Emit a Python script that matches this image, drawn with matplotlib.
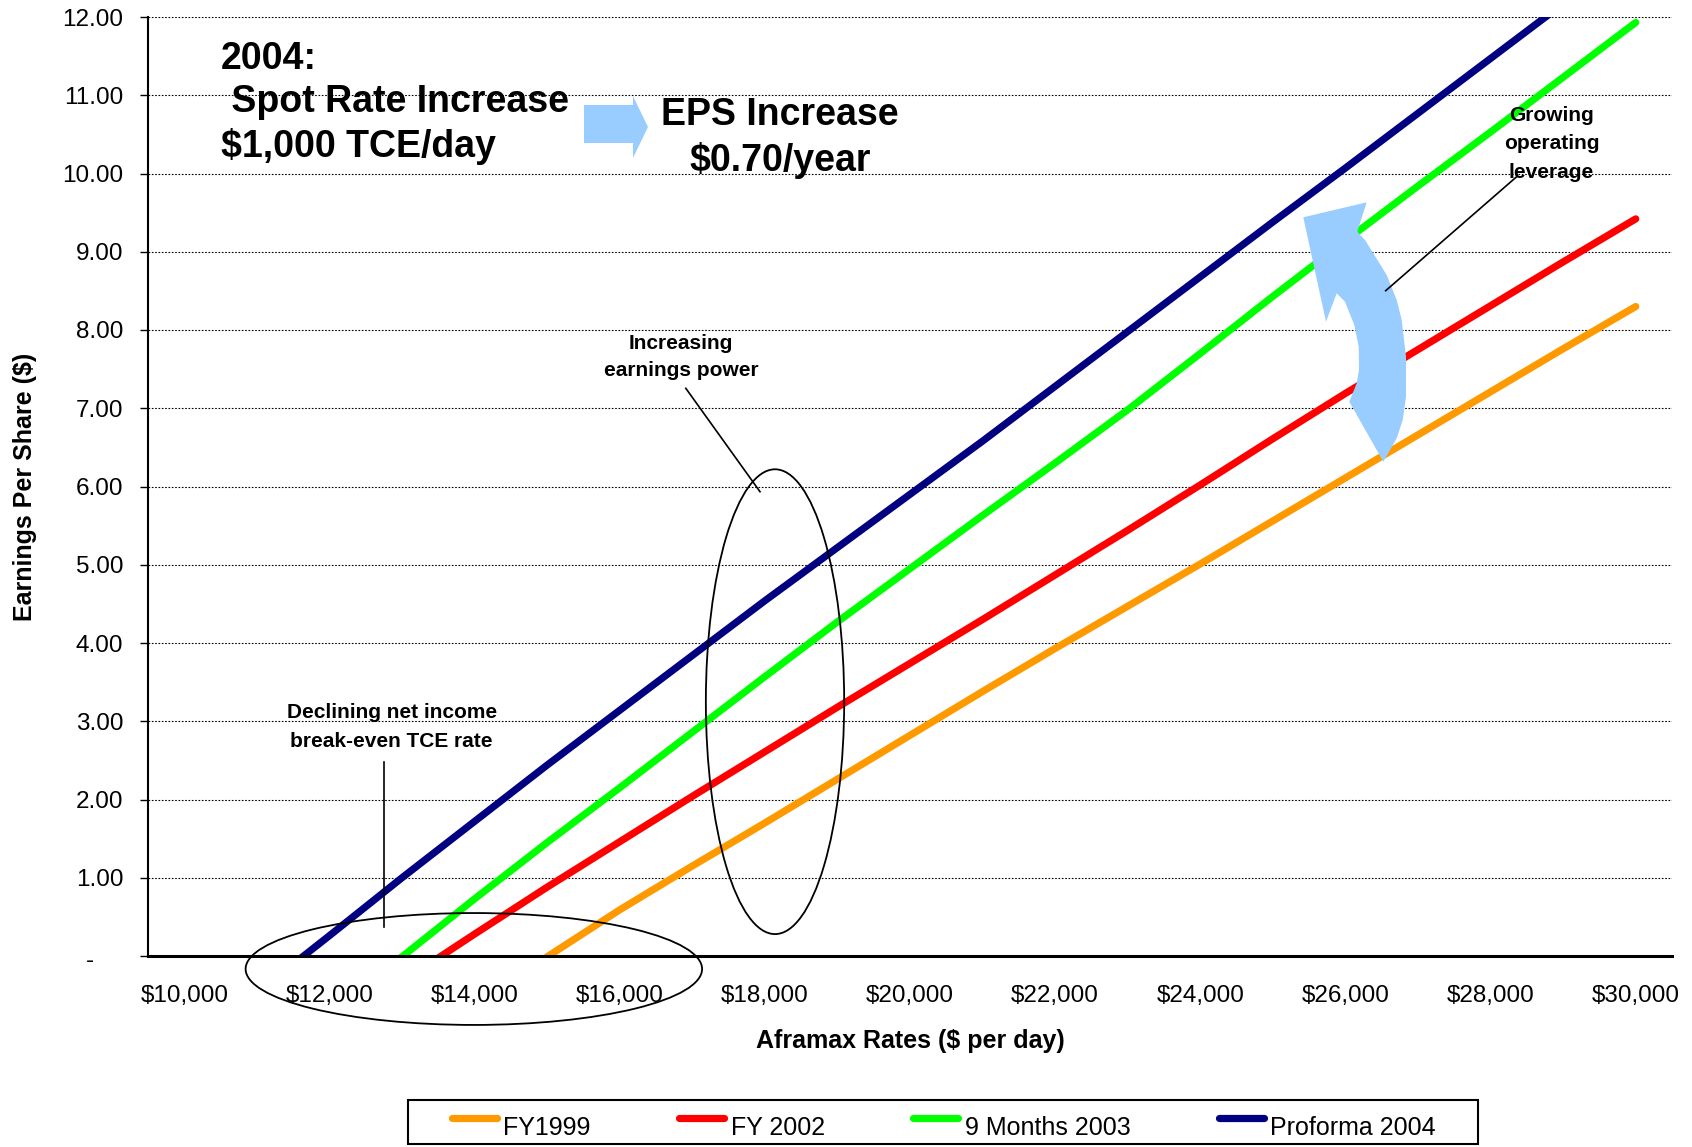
import numpy as np
import matplotlib.pyplot as plt
import matplotlib.transforms as mtransforms
from matplotlib.patches import Ellipse, Polygon, Rectangle
from matplotlib.lines import Line2D

plt.rcParams['font.family'] = ['Liberation Sans', 'DejaVu Sans']

# EPS sensitivity to the Aframax spot rate, one point per $1,000/day
rates = list(range(10000, 30001, 1000))
eps_fy1999 = [-3.00, -2.42, -1.82, -1.22, -0.61, -0.01, 0.59, 1.15, 1.70, 2.26, 2.82,
              3.38, 3.93, 4.47, 5.01, 5.56, 6.11, 6.66, 7.21, 7.76, 8.30]
eps_fy2002 = [-2.15, -1.55, -0.95, -0.33, 0.28, 0.88, 1.46, 2.04, 2.61, 3.18, 3.74,
              4.30, 4.87, 5.44, 6.02, 6.61, 7.19, 7.75, 8.31, 8.87, 9.42]
eps_9m2003 = [-2.12, -1.42, -0.72, -0.01, 0.73, 1.45, 2.15, 2.86, 3.57, 4.27, 4.95,
              5.63, 6.30, 6.98, 7.70, 8.43, 9.14, 9.84, 10.53, 11.23, 11.93]
eps_pf2004 = [-1.20, -0.47, 0.26, 1.00, 1.72, 2.44, 3.14, 3.84, 4.54, 5.22, 5.90,
              6.58, 7.28, 7.98, 8.68, 9.38, 10.07, 10.77, 11.47, 12.17, 12.87]

series_names = ['FY1999', 'FY 2002', '9 Months 2003', 'Proforma 2004']
series_colors = ['#FF9900', '#FF0000', '#00FF00', '#000080']
y_ticks = list(range(0, 13))

W, H = 1692, 1147


def fx(x):
    return x / W


def fy(y):
    return 1 - y / H


fig = plt.figure(figsize=(W / 100, H / 100), dpi=100)
ax = fig.add_axes([fx(148), fy(956), (1672 - 148) / W, (956 - 17) / H])

x = np.arange(len(rates))
lines = []
for vals, color in zip([eps_fy1999, eps_fy2002, eps_9m2003, eps_pf2004], series_colors):
    ln, = ax.plot(x, vals, color=color, lw=5.2, solid_capstyle='round',
                  solid_joinstyle='round', zorder=3)
    lines.append(ln)

ax.set_xlim(-0.5, len(rates) - 0.5)
ax.set_ylim(0, 12)

# category axis, every second rate labelled
ax.set_xticks(x[::2])
ax.set_xticklabels(['${:,}'.format(r) for r in rates[::2]], fontsize=17.5)
ax.tick_params(axis='x', length=0, pad=21)

ax.set_yticks(y_ticks)
ax.set_yticklabels(['-' if v == 0 else '{:.2f}'.format(v) for v in y_ticks], fontsize=17.5)
ax.tick_params(axis='y', direction='out', length=5.8, width=1, pad=12)
# accounting-style dash for zero sits left of the decimals
zero_lbl = ax.get_yticklabels()[0]
zero_lbl.set_transform(zero_lbl.get_transform() +
                       mtransforms.ScaledTranslation(-0.295, -0.03, fig.dpi_scale_trans))

ax.yaxis.grid(True, color='black', linestyle=(0, (1.5, 1.5)), lw=0.8)
ax.set_axisbelow(True)
for s in ['top', 'right']:
    ax.spines[s].set_visible(False)
ax.spines['left'].set_linewidth(1.5)
ax.spines['bottom'].set_linewidth(2.2)
ax.spines['bottom'].set_zorder(4)

ax.set_xlabel('Aframax Rates ($ per day)', fontsize=18, fontweight='bold', labelpad=16)
ax.set_ylabel('Earnings Per Share ($)', fontsize=18, fontweight='bold', labelpad=18)

# highlight ellipses
ax.add_patch(Ellipse((8.14, 3.25), 1.906, 5.94, fill=False, edgecolor='black',
                     lw=1.3, zorder=6, clip_on=False))
ax.add_patch(Ellipse((3.99, -0.166), 6.29, 1.43, fill=False, edgecolor='black',
                     lw=1.3, zorder=6, clip_on=False))

# headline text and block arrow
fig.text(fx(221), fy(103), '2004:\n Spot Rate Increase\n$1,000 TCE/day', fontsize=27,
         fontweight='bold', ha='left', va='center', linespacing=1.25)
arrow_pts = [(584, 105), (633, 105), (633, 96), (648, 127), (633, 158), (633, 143), (584, 143)]
fig.patches.append(Polygon([(fx(a), fy(b)) for a, b in arrow_pts], closed=True,
                           transform=fig.transFigure, facecolor='#99CCFF', edgecolor='none'))
fig.text(fx(780), fy(138), 'EPS Increase\n$0.70/year', fontsize=27, fontweight='bold',
         ha='center', va='center', multialignment='center', linespacing=1.30)

# curved arrow between FY1999 and the 2003 line
curve_pts = [(1303.3, 217.3), (1366.7, 202.3), (1357.3, 231.7), (1365, 240), (1386.7, 275),
             (1396.7, 300), (1401.7, 320), (1406, 356.7), (1406, 396.7), (1402.7, 420),
             (1396.7, 438.3), (1383.3, 461.7), (1349.3, 401.7), (1356.7, 383.3),
             (1359, 370), (1358.7, 346.7), (1354.3, 325), (1345, 301.7), (1336.7, 293.3),
             (1326, 321.7)]
fig.patches.append(Polygon([(fx(a), fy(b)) for a, b in curve_pts], closed=True,
                           transform=fig.transFigure, facecolor='#99CCFF', edgecolor='none'))

# callouts
fig.text(fx(1551.6), fy(144), 'Growing\noperating\nleverage', fontsize=15, fontweight='bold',
         ha='center', va='center', multialignment='center', linespacing=1.64)
fig.lines.append(Line2D([fx(1516.7), fx(1385.7)], [fy(176.7), fy(290.7)],
                        transform=fig.transFigure, color='black', lw=1.2))

fig.text(fx(681), fy(357), 'Increasing\nearnings power', fontsize=15, fontweight='bold',
         ha='center', va='center', multialignment='center', linespacing=1.51)
fig.lines.append(Line2D([fx(685.8), fx(760)], [fy(388.3), fy(491.7)],
                        transform=fig.transFigure, color='black', lw=1.2))

fig.text(fx(391.7), fy(727), 'Declining net income\nbreak-even TCE rate', fontsize=15,
         fontweight='bold', ha='center', va='center', multialignment='center', linespacing=1.66)
fig.lines.append(Line2D([fx(383.5), fx(383.5)], [fy(762), fy(927)],
                        transform=fig.transFigure, color='black', lw=1.2))

# legend in a plain box under the chart, samples sit a little above the text
leg = fig.legend(lines, series_names, loc='center', bbox_to_anchor=(fx(944), fy(1128)),
                 ncol=4, frameon=False, handlelength=1.8, handletextpad=0.25,
                 columnspacing=3.55, fontsize=18)
for h in leg.get_lines():
    h.set_transform(h.get_transform() +
                    mtransforms.ScaledTranslation(0, 0.08, fig.dpi_scale_trans))
fig.patches.append(Rectangle((fx(408), fy(1144)), (1478 - 408) / W, 44 / H,
                             transform=fig.transFigure, fill=False, edgecolor='black', lw=1.5))

fig.savefig('out.png', dpi=100)
